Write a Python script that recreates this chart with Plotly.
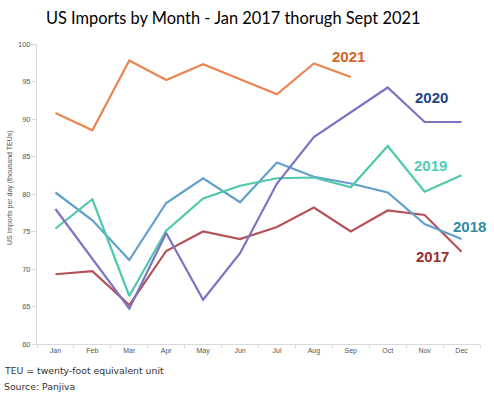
import plotly.graph_objects as go

months = ["Jan", "Feb", "Mar", "Apr", "May", "Jun", "Jul", "Aug", "Sep", "Oct", "Nov", "Dec"]
y2017 = [69.3, 69.7, 65.2, 72.4, 75.0, 74.0, 75.6, 78.2, 75.0, 77.8, 77.2, 72.3]
y2018 = [80.2, 76.5, 71.2, 78.8, 82.1, 78.9, 84.2, 82.3, 81.4, 80.2, 76.0, 74.0]
y2019 = [75.4, 79.3, 66.4, 75.1, 79.4, 81.1, 82.1, 82.2, 80.9, 86.4, 80.3, 82.5]
y2020 = [78.0, 71.4, 64.7, 74.8, 65.9, 72.1, 81.4, 87.6, 90.9, 94.2, 89.6, 89.6]
y2021 = [90.8, 88.5, 97.8, 95.2, 97.3, 95.3, 93.3, 97.4, 95.6]
y_ticks = [60, 65, 70, 75, 80, 85, 90, 95, 100]

series = [
    ("2017", y2017, "#b4525a", "#9a2f2f", 10.22, 71.67),
    ("2018", y2018, "#62a0cc", "#2f8ba6", 11.22, 75.73),
    ("2019", y2019, "#4ec9aa", "#4fcdb9", 10.15, 83.8),
    ("2020", y2020, "#7b74c2", "#1e4585", 10.18, 92.87),
    ("2021", y2021, "#ea8552", "#d4661f", 7.94, 98.4),
]

fig = go.Figure()
for name, vals, lc, tc, ax, ay in series:
    fig.add_trace(go.Scatter(x=months[:len(vals)], y=vals, mode="lines", name=name,
                             line=dict(color=lc, width=2.2), showlegend=False))
    fig.add_annotation(x=ax, y=ay, xref="x", yref="y", text="<b>%s</b>" % name,
                       showarrow=False, font=dict(family="Liberation Sans, Arial", size=15, color=tc))

fig.add_annotation(x=-0.079, y=-0.087, xref="paper", yref="paper", yanchor="middle", xanchor="left",
                   text="TEU = twenty-foot equivalent unit", showarrow=False,
                   font=dict(family="DejaVu Sans", size=9.3, color="#333333"))
fig.add_annotation(x=-0.079, y=-0.143, xref="paper", yref="paper", yanchor="middle", xanchor="left",
                   text="Source: Panjiva", showarrow=False,
                   font=dict(family="DejaVu Sans", size=9.3, color="#333333"))
fig.add_annotation(x=-0.061, y=0.523, xref="paper", yref="paper", xanchor="center", yanchor="middle",
                   text="US imports per day (thousand TEUs)", textangle=-90, showarrow=False,
                   font=dict(family="Liberation Sans, Arial", size=7, color="#555555"))

fig.update_layout(
    width=494, height=395,
    margin=dict(l=37, r=14, t=44, b=51),
    paper_bgcolor="white", plot_bgcolor="white",
    title=dict(text="US Imports by Month - Jan 2017 thorugh Sept 2021", x=0.472, xanchor="center",
               y=0.955, yanchor="middle",
               font=dict(family="Lato", size=16.4, color="#000000")),
    xaxis=dict(type="category", categoryorder="array", categoryarray=months, range=[-0.5, 11.5],
               automargin=False,
               showgrid=False, showline=True, linecolor="#d9d9d9", linewidth=1,
               ticks="outside", tickson="boundaries", ticklen=3, tickcolor="#d9d9d9",
               tickfont=dict(family="Liberation Sans, Arial", size=7, color="#555555")),
    yaxis=dict(range=[60, 100], tickvals=y_ticks, showgrid=False, zeroline=False,
               automargin=False,
               showline=True, linecolor="#d9d9d9", linewidth=1,
               ticks="outside", ticklen=4, tickcolor="#d9d9d9",
               tickfont=dict(family="Liberation Sans, Arial", size=7.5, color="#555555")),
)

fig.write_html("out.html", config={"displayModeBar": False},
               post_script="document.body.style.margin='0';document.body.style.overflow='hidden';")
